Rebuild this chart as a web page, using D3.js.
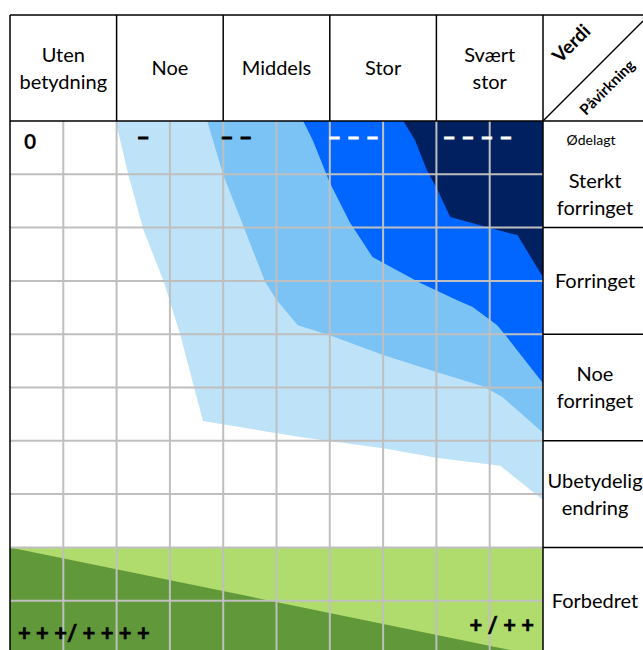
<!DOCTYPE html>
<html>
<head>
<meta charset="utf-8">
<script src="https://cdn.jsdelivr.net/npm/d3@7"></script>
<style>
  html, body { margin: 0; padding: 0; background: #fff; }
  svg { display: block; }
  text { font-family: Lato, "Open Sans", sans-serif; }
</style>
</head>
<body>
<div id="chart"></div>
<script>
// ---------- DATA ----------
const impactCols = [["Uten", "betydning"], ["Noe"], ["Middels"], ["Stor"], ["Svært", "stor"]];
const valueRows = [["Sterkt", "forringet"], ["Forringet"], ["Noe", "forringet"], ["Ubetydelig", "endring"], ["Forbedret"]];
const topNote = "Ødelagt";
const colSymbols = ["0", "–", "– –", "– – –", "– – – –"];
const posSymbols = ["+ + +/ + + + +", "+ / + +"];
const headerCorner = ["Verdi", "Påvirkning"];

// consequence bands: [column units (0-5), half-row units (0-10)]
const bandNoe = [[0.99,0],[1.11,1.01],[1.25,2.03],[1.44,3.0],[1.6,4.03],[1.72,4.95],[1.81,5.63],[2.72,5.93],[3.5,6.14],[4.0,6.32],[4.6,6.47],[5,7.11],[5,0]];
const bandMiddels = [[1.85,0],[2.0,1.01],[2.2,2.03],[2.39,3.0],[2.5,3.36],[2.7,3.83],[3.0,4.02],[3.5,4.39],[4.0,4.71],[4.43,4.97],[4.62,5.18],[5,5.85],[5,0]];
const bandStor = [[2.75,0],[2.84,0.36],[3.0,1.16],[3.19,1.91],[3.4,2.55],[3.85,3.04],[4.19,3.36],[4.34,3.49],[4.57,3.83],[4.66,4.05],[5,4.92],[5,0]];
const bandSvaertStor = [[3.69,0],[3.8,0.36],[3.91,0.92],[4.01,1.29],[4.13,1.8],[4.47,1.99],[4.76,2.14],[5,2.93],[5,0]];
const improvedLight = [[0,8],[5,8],[5,10.05],[0,10.05]];
const improvedDark = [[0,8],[5,10.05],[0,10.05]];

// ---------- LAYOUT ----------
const W = 643, H = 650;
const left = 10, gridRight = 543, headTop = 15, headBottom = 121, rowH = 53.3;
const x = d3.scaleLinear().domain([0, 5]).range([left, gridRight]);
const y = d3.scaleLinear().domain([0, 10]).range([headBottom, headBottom + 10 * rowH]);
const labelX = 595;

const svg = d3.select("#chart").append("svg").attr("width", W).attr("height", H);

const line = d3.line().x(d => x(d[0])).y(d => y(d[1]));
const bands = [
  {pts: bandNoe, fill: "#BEE3F8"},
  {pts: bandMiddels, fill: "#7CC3F5"},
  {pts: bandStor, fill: "#0066FF"},
  {pts: bandSvaertStor, fill: "#002060"},
  {pts: improvedLight, fill: "#B0DC6E"},
  {pts: improvedDark, fill: "#61993A"}
];
svg.append("g").selectAll("path").data(bands).join("path")
  .attr("d", d => line(d.pts) + "Z")
  .attr("fill", d => d.fill);

// grid lines
const g = svg.append("g").attr("stroke", "#BFBFBF").attr("stroke-width", 2);
g.selectAll("line.v").data(d3.range(1, 10)).join("line")
  .attr("x1", d => x(d / 2)).attr("x2", d => x(d / 2))
  .attr("y1", headBottom).attr("y2", H);
g.selectAll("line.h").data(d3.range(1, 10)).join("line")
  .attr("x1", left).attr("x2", gridRight)
  .attr("y1", d => y(d)).attr("y2", d => y(d));

// borders
const b = svg.append("g").attr("stroke", "#000").attr("stroke-width", 1.5).attr("fill", "none");
b.append("line").attr("x1", left).attr("x2", W).attr("y1", headTop).attr("y2", headTop);
b.append("line").attr("x1", left).attr("x2", W).attr("y1", headBottom).attr("y2", headBottom);
b.selectAll("line.cv").data(d3.range(0, 6)).join("line")
  .attr("x1", d => x(d)).attr("x2", d => x(d))
  .attr("y1", headTop).attr("y2", d => (d === 0 || d === 5) ? H : headBottom);
b.selectAll("line.rh").data(d3.range(1, 5)).join("line")
  .attr("x1", gridRight).attr("x2", W)
  .attr("y1", d => y(d * 2)).attr("y2", d => y(d * 2));
b.append("line").attr("x1", gridRight).attr("y1", headBottom).attr("x2", W).attr("y2", headBottom - (W - gridRight));

// header labels
const hdr = svg.append("g").attr("font-size", 20).attr("fill", "#000").attr("text-anchor", "middle");
impactCols.forEach((lines, i) => {
  const cx = x(i + 0.5), cy = (headTop + headBottom) / 2;
  const t = hdr.append("text").attr("x", cx).attr("y", cy - (lines.length - 1) * 13.5 + 7);
  lines.forEach((s, k) => t.append("tspan").attr("x", cx).attr("dy", k === 0 ? 0 : 27).text(s));
});

// corner labels
svg.append("text").attr("transform", "translate(576,48) rotate(-45)")
  .attr("text-anchor", "middle").attr("font-size", 19).attr("font-weight", "bold").text(headerCorner[0]);
svg.append("text").attr("transform", "translate(611,91) rotate(-45)")
  .attr("text-anchor", "middle").attr("font-size", 15).attr("font-weight", "bold").text(headerCorner[1]);

// row labels
const rowShift = [20, 0, 0, 0, 0];
const rl = svg.append("g").attr("font-size", 20).attr("fill", "#000").attr("text-anchor", "middle");
valueRows.forEach((lines, i) => {
  const cy = y(i * 2 + 1) + rowShift[i];
  const t = rl.append("text").attr("y", cy - (lines.length - 1) * 13.5 + 7);
  lines.forEach((s, k) => t.append("tspan").attr("x", labelX).attr("dy", k === 0 ? 0 : 27).text(s));
});
svg.append("text").attr("x", labelX - 4).attr("y", 145).attr("text-anchor", "middle")
  .attr("font-size", 14).text(topNote);

// column symbols
const symOffsets = [14, 20, -3, -2, 6];
const sym = svg.append("g").attr("font-family", "Liberation Sans, sans-serif").attr("font-weight", "bold");
colSymbols.forEach((s, i) => {
  const c = i >= 3 ? "#fff" : "#000";
  sym.append("text").attr("x", x(i) + symOffsets[i]).attr("y", i === 0 ? 149 : 145)
    .attr("font-size", i === 0 ? 21 : 23)
    .attr("fill", c).attr("stroke", i === 0 ? "none" : c).attr("stroke-width", 1)
    .text(s);
});
// improvement symbols
sym.append("text").attr("x", x(0) + 8).attr("y", 641).attr("font-size", 22)
  .attr("stroke", "#000").attr("stroke-width", 0.6).text(posSymbols[0]);
sym.append("text").attr("x", x(5) - 9).attr("y", 633).attr("text-anchor", "end").attr("font-size", 22)
  .attr("stroke", "#000").attr("stroke-width", 0.6).text(posSymbols[1]);
</script>
</body>
</html>
